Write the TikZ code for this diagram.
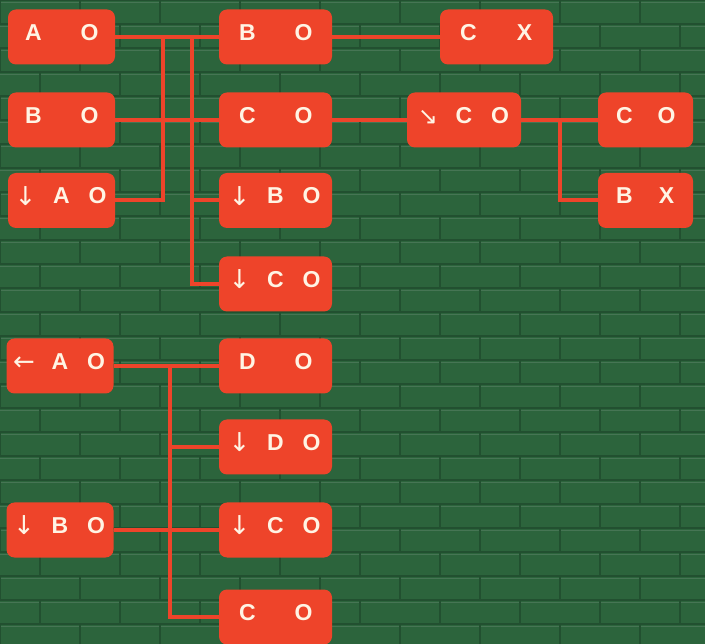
\documentclass[tikz,border=0pt]{standalone}
\usepackage{fontspec}
\setmainfont{Liberation Sans}
\newfontfamily\arrowfont{DejaVu Sans}
\definecolor{brickgreen}{RGB}{44,100,60}
\definecolor{mortardark}{RGB}{34,80,48}
\definecolor{mortarlight}{RGB}{120,150,130}
\definecolor{tilered}{RGB}{238,68,42}
\definecolor{tiletext}{RGB}{255,244,228}
\newcommand{\arrdown}{\raisebox{-1.5pt}{\arrowfont\fontsize{26pt}{26pt}\selectfont\mdseries ↓}}
\newcommand{\arrleft}{\raisebox{-1.5pt}{\arrowfont\fontsize{26pt}{26pt}\selectfont\mdseries ←}}
\newcommand{\arrdiag}{\raisebox{-1pt}{\arrowfont\fontsize{24pt}{24pt}\selectfont\mdseries ↘}}
\newcommand{\twotag}[3][56pt]{\makebox[0pt]{\makebox[#1]{#2}\makebox[#1]{#3}}}
\newcommand{\threetag}[3]{\makebox[0pt]{\makebox[36pt]{#1}\makebox[36pt]{#2}\makebox[36pt]{#3}}}
\begin{document}
\begin{tikzpicture}[x=1pt,y=-1pt,
  tile/.style={fill=tilered, text=tiletext, rounded corners=8pt, inner sep=0pt,
    minimum height=55pt, text height=16.5pt, text depth=10pt,
    font=\fontsize{23pt}{27pt}\selectfont\bfseries},
  link/.style={draw=tilered, line width=4pt}]
\useasboundingbox (0,0) rectangle (705,644);
\fill[brickgreen] (0,0) rectangle (705,644);
\foreach \r in {0,...,26} {
  \draw[mortardark, line width=1.2pt] (0,\r*24) -- (705,\r*24);
  \draw[mortarlight, line width=0.6pt, opacity=0.35] (0,\r*24+2) -- (705,\r*24+2);
  \foreach \k in {0,...,9}
    \draw[mortardark, line width=1.2pt] ({\k*80+mod(\r,2)*40},\r*24) -- ++(0,24);
}

\node[tile, minimum width=107pt] (ao1) at (61.5,37) {\twotag{A}{O}};
\node[tile, minimum width=107pt] (bo1) at (61.5,120) {\twotag{B}{O}};
\node[tile, minimum width=107pt] (dao1) at (61.5,200.5) {\threetag{\arrdown}{A}{O}};
\node[tile, minimum width=107pt] (lao1) at (60,366) {\threetag{\arrleft}{A}{O}};
\node[tile, minimum width=107pt] (dbo1) at (60,530) {\threetag{\arrdown}{B}{O}};

\node[tile, minimum width=113pt] (bo2) at (275.5,37) {\twotag{B}{O}};
\node[tile, minimum width=113pt] (co2) at (275.5,120) {\twotag{C}{O}};
\node[tile, minimum width=113pt] (dbo2) at (275.5,200.5) {\threetag{\arrdown}{B}{O}};
\node[tile, minimum width=113pt] (dco2) at (275.5,284) {\threetag{\arrdown}{C}{O}};
\node[tile, minimum width=113pt] (do2) at (275.5,366) {\twotag{D}{O}};
\node[tile, minimum width=113pt] (ddo2) at (275.5,447) {\threetag{\arrdown}{D}{O}};
\node[tile, minimum width=113pt] (dco3) at (275.5,530) {\threetag{\arrdown}{C}{O}};
\node[tile, minimum width=113pt] (co3) at (275.5,617) {\twotag{C}{O}};

\node[tile, minimum width=113pt] (cx) at (496.5,37) {\twotag{C}{X}};
\node[tile, minimum width=114pt] (sco) at (464,120) {\threetag{\arrdiag}{C}{O}};
\node[tile, minimum width=95pt] (co4) at (645.5,120) {\twotag[42pt]{C}{O}};
\node[tile, minimum width=95pt] (bx) at (645.5,200.5) {\twotag[42pt]{B}{X}};

\coordinate (j1) at (163,37);
\coordinate (j2) at (192,37);
\coordinate (j3) at (560,120);
\coordinate (j4) at (170,366);

\draw[link] (ao1.east) -- (bo2.west);
\draw[link] (dao1.east) -| (j1);
\draw[link] (j2) |- (dco2.west);
\draw[link] (j2 |- dbo2.west) -- (dbo2.west);
\draw[link] (bo1.east) -- (co2.west);
\draw[link] (bo2.east) -- (cx.west);
\draw[link] (co2.east) -- (sco.west);
\draw[link] (sco.east) -- (co4.west);
\draw[link] (j3) |- (bx.west);
\draw[link] (lao1.east) -- (do2.west);
\draw[link] (j4) |- (co3.west);
\draw[link] (j4 |- ddo2.west) -- (ddo2.west);
\draw[link] (dbo1.east) -- (dco3.west);
\end{tikzpicture}
\end{document}
